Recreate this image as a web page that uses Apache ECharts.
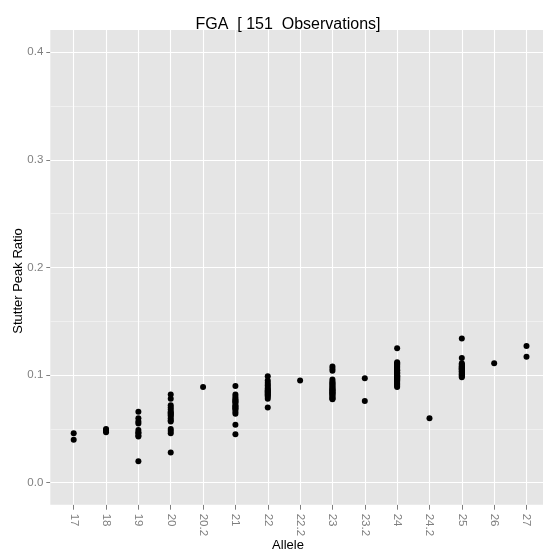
<!DOCTYPE html>
<html>
<head>
<meta charset="utf-8">
<script src="https://cdn.jsdelivr.net/npm/echarts@6/dist/echarts.min.js"></script>
<style>
html,body{margin:0;padding:0;background:#fff;overflow:hidden;}
#chart{width:100vw;height:100vh;}
</style>
</head>
<body>
<div id="chart"></div>
<script>
// Categories (alleles) and tick values
const alleles = ['17','18','19','20','20.2','21','22','22.2','23','23.2','24','24.2','25','26','27'];
const yTicks = [0, 0.1, 0.2, 0.3, 0.4];
const yMinorTicks = [0.05, 0.15, 0.25, 0.35];

// Stutter peak ratios per allele
const r17 = [0.046, 0.040];
const r18 = [0.050, 0.049, 0.048, 0.047];
const r19 = [0.066, 0.060, 0.057, 0.055, 0.049, 0.047, 0.046, 0.044, 0.043, 0.020];
const r20 = [0.082, 0.078, 0.072, 0.070, 0.068, 0.066, 0.065, 0.064, 0.063, 0.062, 0.060, 0.058, 0.057, 0.050, 0.048, 0.046, 0.028];
const r20_2 = [0.089];
const r21 = [0.090, 0.082, 0.080, 0.078, 0.077, 0.076, 0.075, 0.074, 0.072, 0.071, 0.070, 0.069, 0.068, 0.066, 0.064, 0.054, 0.045];
const r22 = [0.099, 0.095, 0.093, 0.091, 0.090, 0.088, 0.087, 0.086, 0.085, 0.084, 0.083, 0.082, 0.081, 0.080, 0.078, 0.070];
const r22_2 = [0.095];
const r23 = [0.108, 0.106, 0.104, 0.096, 0.094, 0.093, 0.092, 0.091, 0.090, 0.089, 0.088, 0.087, 0.0865, 0.086, 0.085, 0.084, 0.0835, 0.083, 0.082, 0.081, 0.080, 0.079, 0.078, 0.0775];
const r23_2 = [0.097, 0.076];
const r24 = [0.125, 0.112, 0.111, 0.110, 0.109, 0.108, 0.107, 0.106, 0.105, 0.1045, 0.104, 0.103, 0.1025, 0.102, 0.1015, 0.101, 0.100, 0.0995, 0.099, 0.0985, 0.098, 0.097, 0.0965, 0.096, 0.0955, 0.095, 0.094, 0.093, 0.092, 0.091, 0.090, 0.089];
const r24_2 = [0.060];
const r25 = [0.134, 0.116, 0.111, 0.110, 0.109, 0.108, 0.1075, 0.107, 0.1065, 0.106, 0.1055, 0.105, 0.104, 0.1035, 0.103, 0.102, 0.101, 0.1005, 0.100, 0.099, 0.098];
const r26 = [0.111];
const r27 = [0.127, 0.117];

const ratiosByAllele = [r17, r18, r19, r20, r20_2, r21, r22, r22_2, r23, r23_2, r24, r24_2, r25, r26, r27];

const points = [];
ratiosByAllele.forEach((vals, i) => vals.forEach(v => points.push([i, v])));
const nObs = points.length;

const FONT = '"Liberation Sans", Arial, Helvetica, sans-serif';
const chart = echarts.init(document.getElementById('chart'), null, {renderer: 'canvas'});

const gridLines = [];
yMinorTicks.forEach(v => gridLines.push({yAxis: v, lineStyle: {color: '#f2f2f2', width: 0.8, type: 'solid'}}));
alleles.forEach((a, i) => gridLines.push({xAxis: i, lineStyle: {color: '#ffffff', width: 1.1, type: 'solid'}}));
yTicks.forEach(v => gridLines.push({yAxis: v, lineStyle: {color: '#ffffff', width: 1.1, type: 'solid'}}));

chart.setOption({
  animation: false,
  backgroundColor: '#ffffff',
  graphic: [
    {type: 'text', x: 288, y: 24.5, silent: true,
     style: {text: 'FGA  [ ' + nObs + '  Observations]', font: '16px ' + FONT, fill: '#000000', align: 'center', verticalAlign: 'middle'}},
    {type: 'text', x: 18, y: 281, rotation: Math.PI / 2, silent: true,
     style: {text: 'Stutter Peak Ratio', font: '13px ' + FONT, fill: '#000000', align: 'center', verticalAlign: 'middle'}},
    {type: 'text', x: 288, y: 545.5, silent: true,
     style: {text: 'Allele', font: '13px ' + FONT, fill: '#000000', align: 'center', verticalAlign: 'middle'}}
  ],
  grid: {
    left: 50.3, right: 0, top: 30, bottom: 46.3,
    show: true, backgroundColor: '#e5e5e5', borderWidth: 0,
    containLabel: false
  },
  xAxis: {
    type: 'value',
    position: 'bottom',
    min: -0.7236,
    max: 14.51,
    axisLine: {show: false, onZero: false},
    splitLine: {show: false},
    axisTick: {show: true, inside: false, length: 5, customValues: alleles.map((a, i) => i), lineStyle: {color: '#7f7f7f', width: 1}},
    axisLabel: {
      customValues: alleles.map((a, i) => i),
      rotate: -90,
      margin: 9,
      fontFamily: FONT, fontSize: 11.5, color: '#7f7f7f',
      formatter: v => alleles[Math.round(v)]
    }
  },
  yAxis: {
    type: 'value',
    position: 'left',
    min: -0.0204,
    max: 0.4207,
    axisLine: {show: false, onZero: false},
    splitLine: {show: false},
    axisTick: {show: true, inside: false, length: 4, customValues: yTicks, lineStyle: {color: '#7f7f7f', width: 1}},
    axisLabel: {
      customValues: yTicks,
      margin: 7,
      fontFamily: FONT, fontSize: 11.5, color: '#7f7f7f',
      formatter: v => v.toFixed(1)
    }
  },
  series: [
    {
      type: 'scatter',
      z: 1,
      silent: true,
      data: [],
      markLine: {
        z: 1,
        silent: true,
        symbol: ['none', 'none'],
        label: {show: false},
        animation: false,
        data: gridLines
      }
    },
    {
      type: 'scatter',
      z: 10,
      symbol: 'circle',
      symbolSize: 6,
      itemStyle: {color: '#000000', opacity: 1},
      data: points
    }
  ]
});
window.addEventListener('resize', () => chart.resize());
</script>
</body>
</html>
